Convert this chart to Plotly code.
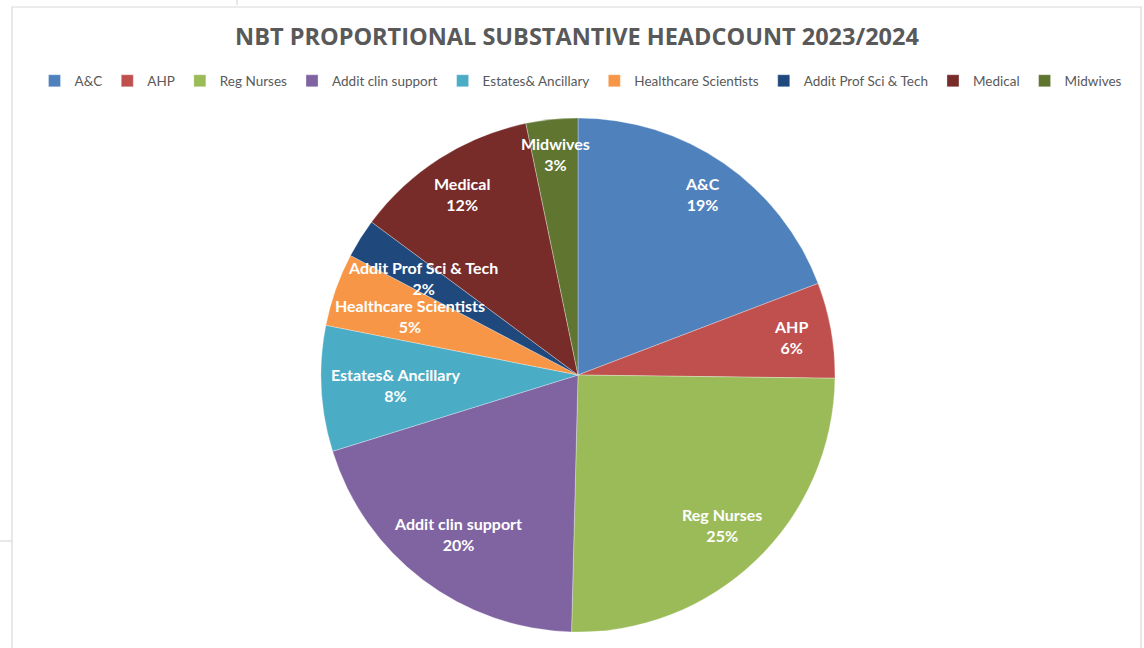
import math
import plotly.graph_objects as go

categories = ["A&C", "AHP", "Reg Nurses", "Addit clin support", "Estates& Ancillary",
              "Healthcare Scientists", "Addit Prof Sci & Tech", "Medical", "Midwives"]
shares = [19.2, 6.0, 25.2, 19.8, 7.9, 4.6, 2.45, 11.6, 3.25]
colors = ["#4F81BD", "#C0504D", "#9BBB59", "#8064A2", "#4BACC6",
          "#F79646", "#1F497D", "#772C2A", "#5F7530"]

W, H = 1144, 648
CX, CY, R = 578, 375, 257          # pie centre / radius in px (layout)
LABEL_FONT = 16

fig = go.Figure(go.Pie(
    labels=categories,
    values=shares,
    sort=False,
    direction="clockwise",
    rotation=0,
    marker=dict(colors=colors, line=dict(color="rgba(255,255,255,0.3)", width=1)),
    textinfo="none",
    domain=dict(x=[(CX - 300) / W, (CX + 300) / W], y=[(H - CY - R) / H, (H - CY + R) / H]),
    hoverinfo="label+percent",
))

# Excel-like "best fit" data labels, placed from the data (cumulative angles)
total = sum(shares)
annotations = []
cum = 0.0
for name, v in zip(categories, shares):
    mid = (cum + v / 2) / total * 2 * math.pi      # clockwise from 12 o'clock
    cum += v
    half_w = len(name) * LABEL_FONT * 0.52 / 2
    r = 0.87 * R - 0.55 * half_w * abs(math.sin(mid))
    x = CX + r * math.sin(mid)
    y = CY - r * math.cos(mid)
    pct = round(v / total * 100)
    annotations.append(dict(
        x=x / W, y=1 - y / H, xref="paper", yref="paper",
        xanchor="center", yanchor="middle",
        text=f"<b>{name}</b><br><b>{pct}%</b>",
        showarrow=False, align="center",
        font=dict(family="Lato, Open Sans, sans-serif", size=LABEL_FONT, color="white"),
    ))

fig.update_layout(
    width=W, height=H,
    margin=dict(l=0, r=0, t=0, b=0),
    paper_bgcolor="white",
    plot_bgcolor="white",
    annotations=annotations,
    title=dict(
        text="<b>NBT PROPORTIONAL SUBSTANTIVE HEADCOUNT 2023/2024</b>",
        x=577 / W, xanchor="center", xref="paper",
        y=1 - 37 / H, yanchor="middle", yref="container",
        font=dict(family="Open Sans, sans-serif", size=23.5, color="#595959"),
    ),
    legend=dict(
        orientation="h",
        x=581 / W, xanchor="center",
        y=1 - 81 / H, yanchor="middle",
        font=dict(family="Lato, sans-serif", size=13.5, color="#595959"),
        itemwidth=30,
        traceorder="normal",
    ),
    shapes=[
        dict(type="rect", xref="paper", yref="paper",
             x0=12 / W, x1=1141 / W, y0=-0.01, y1=1 - 7 / H,
             line=dict(color="#D9D9D9", width=1.2), fillcolor="rgba(0,0,0,0)", layer="below"),
        dict(type="line", xref="paper", yref="paper",
             x0=0, x1=12 / W, y0=1 - 541 / H, y1=1 - 541 / H,
             line=dict(color="#D9D9D9", width=1.2), layer="below"),
        dict(type="line", xref="paper", yref="paper",
             x0=237 / W, x1=237 / W, y0=1, y1=1 - 5 / H,
             line=dict(color="#D9D9D9", width=1.2), layer="below"),
    ],
)

fig.write_html("out.html", config={"displayModeBar": False},
               post_script="document.body.style.margin='0px';")
